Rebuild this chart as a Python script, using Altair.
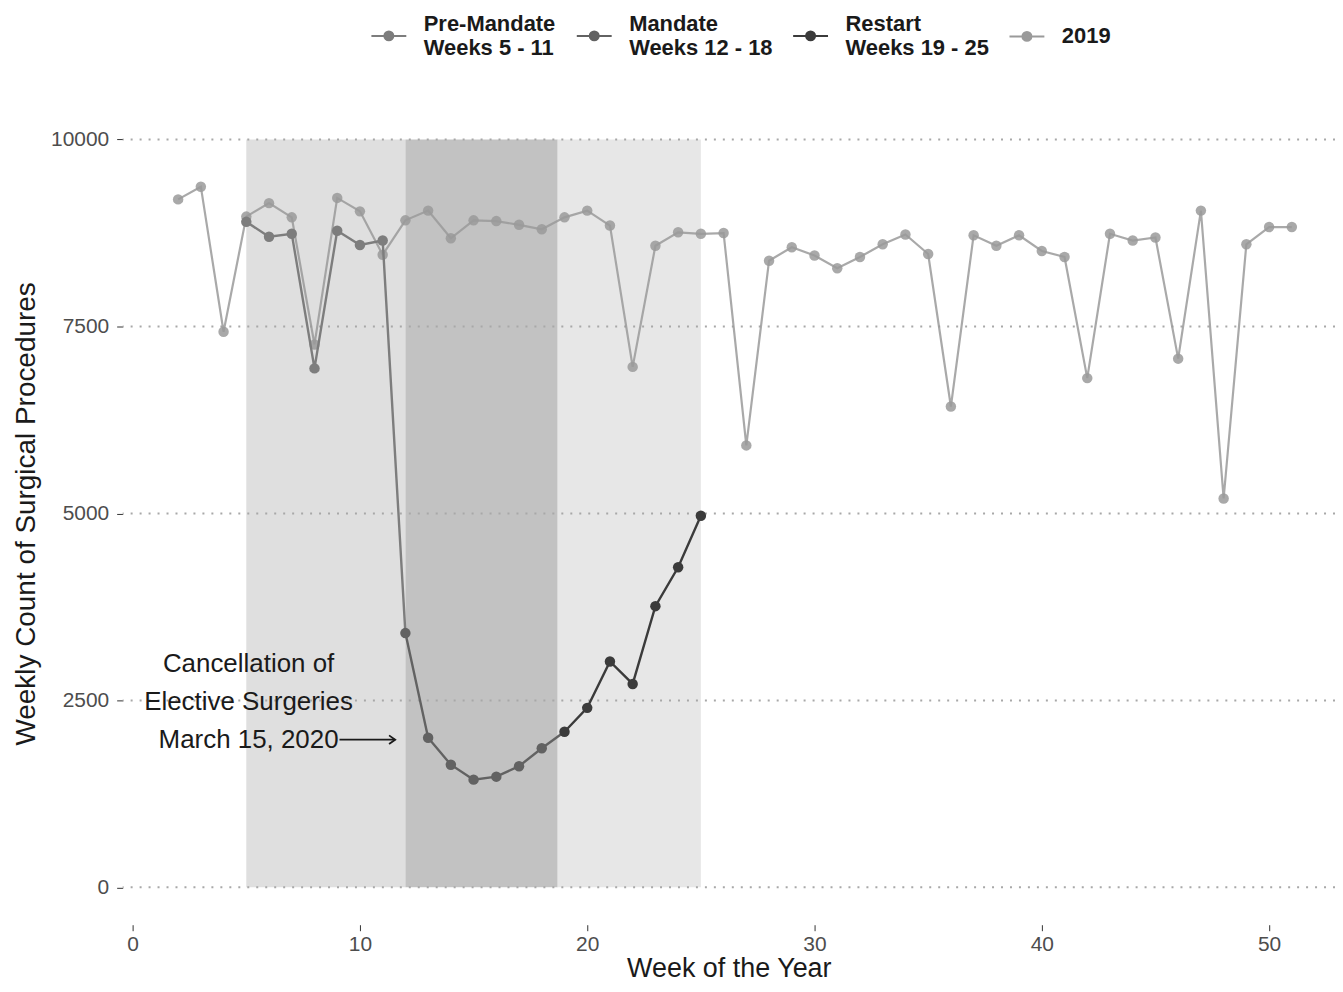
import altair as alt
import pandas as pd

# ---------------- data ----------------
weeks_2019 = list(range(2, 52))
values_2019 = [9200, 9370, 7430, 8970, 9150, 8960, 7260, 9220, 9040, 8460,
               8920, 9050, 8680, 8920, 8910, 8860, 8800, 8960, 9050, 8850,
               6960, 8580, 8760, 8740, 8750, 5910, 8380, 8560, 8450, 8280,
               8430, 8600, 8730, 8470, 6430, 8720, 8580, 8720, 8510, 8430,
               6810, 8740, 8650, 8690, 7070, 9050, 5200, 8600, 8830, 8830]

weeks_2020 = list(range(5, 26))
values_2020 = [8900, 8700, 8740, 6940, 8780, 8590, 8650,
               3400, 2000, 1640, 1440, 1480, 1620, 1860,
               2080, 2400, 3020, 2720, 3760, 4280, 4970]

period_names = ["Pre-Mandate|Weeks 5 - 11", "Mandate|Weeks 12 - 18",
                "Restart|Weeks 19 - 25", "2019"]
period_first_week = [5, 12, 19]
period_colors = ["#7d7d7d", "#626262", "#3b3b3b", "#9a9a9a"]

shade_start = [5, 12, 18.7]
shade_end = [12, 18.7, 25]
shade_low = [0, 0, 0]
shade_high = [10000, 10000, 10000]
shade_colors = ["#dfdfdf", "#c2c2c2", "#e7e7e7"]

annot_lines = ["Cancellation of", "Elective Surgeries", "March 15, 2020"]
annot_x = [5.1, 5.1, 5.1]
annot_y = [2990, 2480, 1975]
arrow_x_start = 9.1
arrow_x_end = 11.55
arrow_y = 1975

y_ticks = [0, 2500, 5000, 7500, 10000]
x_ticks = [0, 10, 20, 30, 40, 50]

# ---------------- tables ----------------
def period_of(w):
    idx = 0
    for i, fw in enumerate(period_first_week):
        if w >= fw:
            idx = i
    return period_names[idx]

df19 = pd.DataFrame({"week": weeks_2019, "value": values_2019, "period": "2019"})
df20 = pd.DataFrame({"week": weeks_2020, "value": values_2020})
df20["period"] = [period_of(w) for w in weeks_2020]
df_all = pd.concat([df20, df19], ignore_index=True)

# each period's line also reaches the first point of the next period
seg_rows = []
for i, p in enumerate(period_names[:3]):
    sub = df20[df20["period"] == p]
    rows = sub.to_dict("records")
    if i < 2:
        nxt = df20[df20["period"] == period_names[i + 1]].iloc[0]
        rows.append({"week": nxt["week"], "value": nxt["value"], "period": p})
    seg_rows.extend(rows)
df_seg = pd.DataFrame(seg_rows)

df_shade = pd.DataFrame({"x1": shade_start, "x2": shade_end, "y1": shade_low,
                         "y2": shade_high, "c": shade_colors})
df_annot = pd.DataFrame({"x": annot_x, "y": annot_y, "t": annot_lines})
df_arrow = pd.DataFrame({"x1": [arrow_x_start], "x2": [arrow_x_end], "y": [arrow_y]})

# ---------------- scales ----------------
xscale = alt.Scale(domain=[-0.44, 52.9], nice=False, zero=False)
yscale = alt.Scale(domain=[-500, 10500], nice=False, zero=False)
color_scale = alt.Scale(domain=period_names, range=period_colors)

# legend key glyphs (line + dot); two-line entries get the glyph lowered to sit
# between their two label lines
key_low = "M-0.7,0.46H-0.18A0.18,0.18 0 1,1 0.18,0.46A0.18,0.18 0 1,1 -0.18,0.46M0.18,0.46H0.7"
key_mid = "M-0.7,0H-0.18A0.18,0.18 0 1,1 0.18,0A0.18,0.18 0 1,1 -0.18,0M0.18,0H0.7"
shape_scale = alt.Scale(domain=period_names, range=[key_low, key_low, key_low, key_mid])

x_axis = alt.Axis(values=x_ticks, title="Week of the Year", grid=False, format="d",
                  labelFontSize=21, labelColor="#4d4d4d", tickColor="#333333",
                  tickSize=6, labelPadding=3, domain=False, titleFontSize=27,
                  titleFontWeight="normal", titleColor="#1a1a1a", titlePadding=1)
y_axis = alt.Axis(values=y_ticks, title="Weekly Count of Surgical Procedures",
                  grid=False, format="d",
                  labelFontSize=21, labelColor="#4d4d4d", tickColor="#333333",
                  tickSize=6, labelPadding=8, domain=False, titleFontSize=28,
                  titleFontWeight="normal", titleColor="#1a1a1a", titlePadding=10)

legend = alt.Legend(
    title=None, orient="none", legendX=241, legendY=-104, direction="horizontal",
    symbolSize=2500, symbolStrokeWidth=2, symbolOpacity=1, labelFontSize=22,
    labelFontWeight="bold", labelExpr="split(datum.label, '|')", columnPadding=12,
    labelOffset=9, labelColor="#1a1a1a", labelLimit=300,
)

# ---------------- layers ----------------
shade = alt.Chart(df_shade).mark_rect(opacity=1, strokeWidth=0).encode(
    x=alt.X("x1:Q", scale=xscale, axis=x_axis),
    x2="x2:Q",
    y=alt.Y("y1:Q", scale=yscale, axis=y_axis),
    y2="y2:Q",
    fill=alt.Fill("c:N", scale=None, legend=None),
)

grid = alt.Chart(pd.DataFrame({"v": y_ticks})).mark_rule(
    strokeDash=[2, 7], color="#a8a8a8", strokeWidth=2
).encode(y=alt.Y("v:Q", scale=yscale))

line19 = alt.Chart(df19).mark_line(strokeWidth=2.2, opacity=0.85).encode(
    x=alt.X("week:Q", scale=xscale),
    y=alt.Y("value:Q", scale=yscale),
    color=alt.Color("period:N", scale=color_scale, legend=legend),
)
pts19 = alt.Chart(df19).mark_point(filled=True, size=110, opacity=0.85, shape="circle").encode(
    x=alt.X("week:Q", scale=xscale),
    y=alt.Y("value:Q", scale=yscale),
    color=alt.Color("period:N", scale=color_scale, legend=legend),
)
line20 = alt.Chart(df_seg).mark_line(strokeWidth=2.4).encode(
    x=alt.X("week:Q", scale=xscale),
    y=alt.Y("value:Q", scale=yscale),
    color=alt.Color("period:N", scale=color_scale, legend=legend),
    detail="period:N",
)
pts20 = alt.Chart(df20).mark_point(filled=True, size=110, opacity=1, shape="circle").encode(
    x=alt.X("week:Q", scale=xscale),
    y=alt.Y("value:Q", scale=yscale),
    color=alt.Color("period:N", scale=color_scale, legend=legend),
)
# invisible layer that only supplies the legend key glyphs
keys = alt.Chart(df_all).mark_point(opacity=0, filled=False, strokeWidth=2).encode(
    x=alt.X("week:Q", scale=xscale),
    y=alt.Y("value:Q", scale=yscale),
    color=alt.Color("period:N", scale=color_scale, legend=legend),
    shape=alt.Shape("period:N", scale=shape_scale, legend=legend),
)

annot = alt.Chart(df_annot).mark_text(fontSize=26, color="#1a1a1a", align="center",
                                      baseline="middle").encode(
    x=alt.X("x:Q", scale=xscale), y=alt.Y("y:Q", scale=yscale), text="t:N")

arrow = alt.Chart(df_arrow).mark_rule(color="#1a1a1a", strokeWidth=1.8).encode(
    x=alt.X("x1:Q", scale=xscale), x2="x2:Q", y=alt.Y("y:Q", scale=yscale))
arrow_head = alt.Chart(df_arrow).mark_point(
    shape="M-1,-0.7L0,0L-1,0.7", filled=False, size=150, color="#1a1a1a",
    strokeWidth=1.8, opacity=1
).encode(x=alt.X("x2:Q", scale=xscale), y=alt.Y("y:Q", scale=yscale))

chart = alt.layer(shade, grid, keys, line19, pts19, line20, pts20, annot, arrow, arrow_head).properties(
    width=1216, height=825,
    autosize=alt.AutoSizeParams(type="none"),
    padding={"left": 115, "top": 93, "right": 0, "bottom": 58},
).configure(
    font="Liberation Sans",
).configure_view(strokeWidth=0).configure_axis(labelFont="Liberation Sans", titleFont="Liberation Sans")

chart.save("out.html", embed_options={"renderer": "svg", "actions": False})
